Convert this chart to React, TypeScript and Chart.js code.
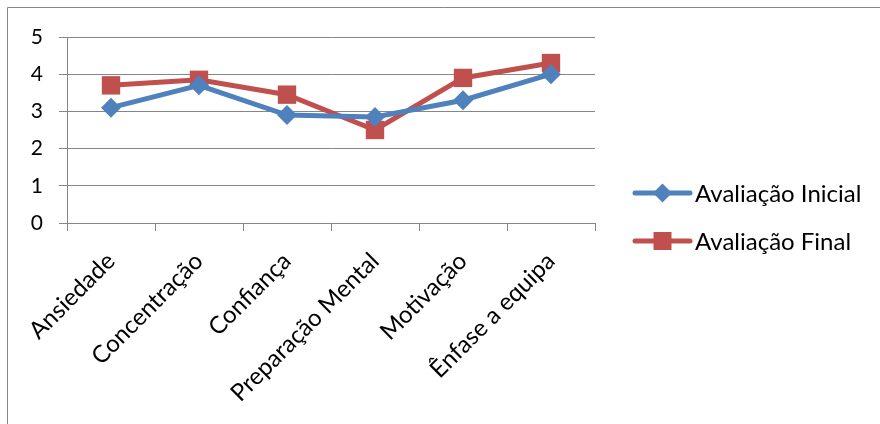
import React, { useEffect, useRef } from "react";
import { Chart, registerables } from "chart.js";

Chart.register(...registerables);

const categories = [
  "Ansiedade",
  "Concentração",
  "Confiança",
  "Preparação Mental",
  "Motivação",
  "Ênfase a equipa",
];
const avaliacaoInicial = [3.1, 3.7, 2.9, 2.85, 3.3, 4.0];
const avaliacaoFinal = [3.7, 3.85, 3.45, 2.5, 3.9, 4.3];
const seriesNames = ["Avaliação Inicial", "Avaliação Final"];
const seriesColors = ["#4F81BD", "#C0504D"];
const seriesMarkers = ["rectRot", "rect"];
const yMin = 0;
const yMax = 5;
const yStep = 1;

const FONT = "Lato, 'DejaVu Sans', sans-serif";
const GRID = "#868686";

const borderPlugin = {
  id: "outerBorder",
  beforeDraw(chart: any) {
    const ctx = chart.ctx;
    ctx.save();
    ctx.fillStyle = "#ffffff";
    ctx.fillRect(0, 0, chart.width, chart.height);
    ctx.strokeStyle = GRID;
    ctx.lineWidth = 1;
    ctx.beginPath();
    ctx.moveTo(7.5, chart.height);
    ctx.lineTo(7.5, 7.5);
    ctx.lineTo(chart.width, 7.5);
    ctx.stroke();
    ctx.restore();
  },
};

const legendPlugin = {
  id: "lineLegend",
  afterDraw(chart: any) {
    const ctx = chart.ctx;
    const area = chart.chartArea;
    const x0 = area.right + 40;
    const lineLen = 55;
    const yStart = area.top + 156;
    const gap = 48;
    ctx.save();
    chart.data.datasets.forEach((ds: any, i: number) => {
      const y = yStart + i * gap;
      ctx.strokeStyle = ds.borderColor;
      ctx.lineWidth = ds.borderWidth;
      ctx.lineCap = "round";
      ctx.beginPath();
      ctx.moveTo(x0, y);
      ctx.lineTo(x0 + lineLen, y);
      ctx.stroke();
      const cx = x0 + lineLen / 2;
      ctx.fillStyle = ds.pointBackgroundColor;
      ctx.beginPath();
      if (ds.pointStyle === "rectRot") {
        const r = 9.5;
        ctx.moveTo(cx, y - r);
        ctx.lineTo(cx + r, y);
        ctx.lineTo(cx, y + r);
        ctx.lineTo(cx - r, y);
        ctx.closePath();
      } else {
        const s = 9;
        ctx.rect(cx - s, y - s, 2 * s, 2 * s);
      }
      ctx.fill();
      ctx.fillStyle = "#000";
      ctx.font = `24px ${FONT}`;
      ctx.textBaseline = "middle";
      ctx.textAlign = "left";
      ctx.fillText(ds.label, x0 + lineLen + 5, y + 1);
    });
    ctx.restore();
  },
};

export default function App() {
  const ref = useRef<HTMLCanvasElement | null>(null);

  useEffect(() => {
    if (!ref.current) return;
    const data = [avaliacaoInicial, avaliacaoFinal];
    const chart = new Chart(ref.current, {
      type: "line",
      data: {
        labels: categories,
        datasets: data.map((vals, i) => ({
          label: seriesNames[i],
          data: vals,
          borderColor: seriesColors[i],
          backgroundColor: seriesColors[i],
          pointBackgroundColor: seriesColors[i],
          pointBorderColor: seriesColors[i],
          pointBorderWidth: 0,
          borderWidth: 5,
          pointStyle: seriesMarkers[i] as any,
          pointRadius: i === 0 ? 10 : 13,
          pointHoverRadius: i === 0 ? 10 : 13,
          tension: 0,
          fill: false,
        })),
      },
      options: {
        responsive: false,
        animation: false,
        layout: { padding: { left: 0, top: 37, right: 285, bottom: 0 } },
        plugins: {
          legend: { display: false },
          tooltip: { enabled: false },
        },
        scales: {
          x: {
            type: "category",
            offset: true,
            grid: {
              offset: true,
              drawOnChartArea: false,
              drawTicks: true,
              tickLength: 8,
              color: GRID,
              lineWidth: 1,
            },
            border: { color: GRID, width: 1 },
            ticks: {
              minRotation: 45,
              maxRotation: 45,
              autoSkip: false,
              padding: 16,
              labelOffset: 0,
              color: "#000",
              font: { family: FONT, size: 24 },
            },
            afterFit: (scale: any) => {
              scale.height = 201;
            },
          },
          y: {
            min: yMin,
            max: yMax,
            grid: {
              color: GRID,
              lineWidth: 1,
              tickLength: 8,
              drawTicks: true,
            },
            border: { color: GRID, width: 1 },
            ticks: {
              stepSize: yStep,
              padding: 16,
              color: "#000",
              font: { family: FONT, size: 21 },
            },
            afterFit: (scale: any) => {
              scale.width = 67;
            },
          },
        },
      },
      plugins: [borderPlugin, legendPlugin],
    });
    return () => chart.destroy();
  }, []);

  return (
    <div style={{ position: "fixed", left: 0, top: 0, width: 880, height: 424 }}>
      <canvas ref={ref} width={880} height={424} />
    </div>
  );
}
